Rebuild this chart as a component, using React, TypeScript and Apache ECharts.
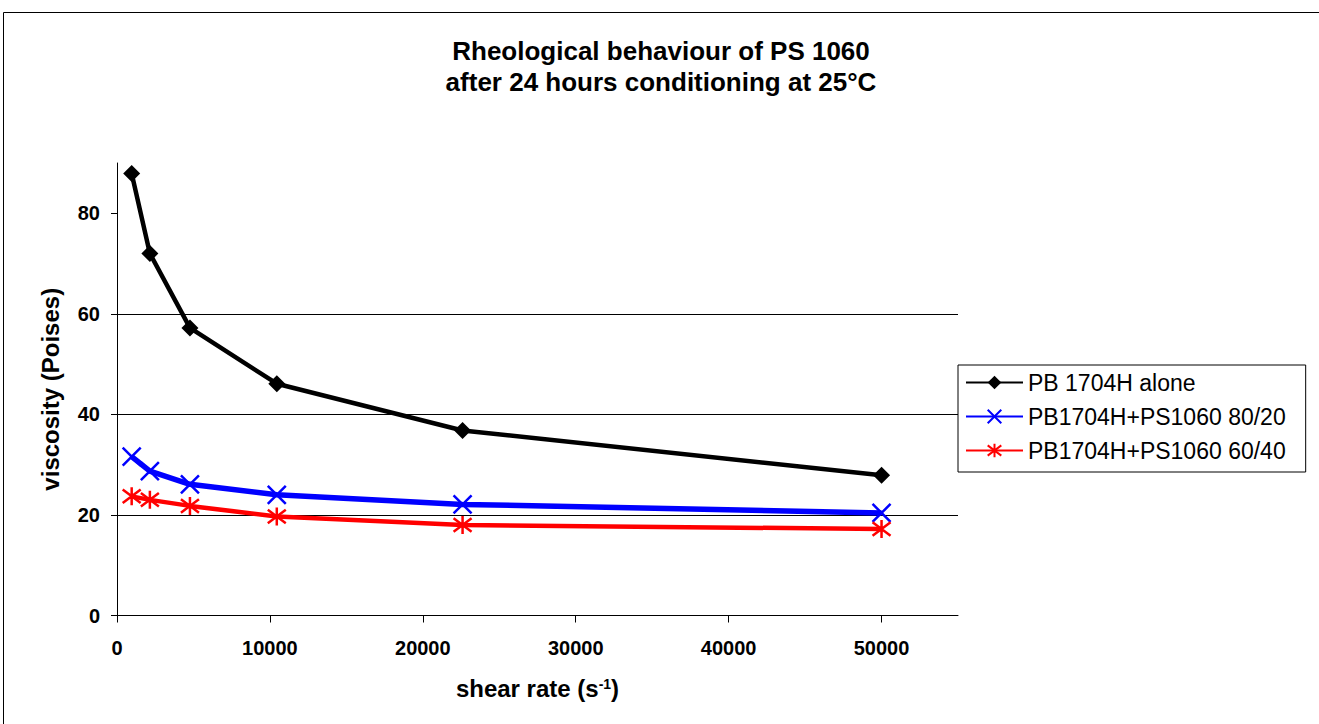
import React, { useEffect, useRef } from "react";
import * as echarts from "echarts";

const shearRates = [960, 2150, 4770, 10450, 22600, 50000];
const pbAlone = [87.9, 72.0, 57.2, 46.1, 36.8, 27.9];
const blend8020 = [31.6, 28.7, 26.1, 24.0, 22.1, 20.4];
const blend6040 = [23.7, 23.0, 21.8, 19.7, 18.0, 17.2];
const seriesNames = ["PB 1704H alone", "PB1704H+PS1060 80/20", "PB1704H+PS1060 60/40"];
const xTicks = [0, 10000, 20000, 30000, 40000, 50000];
const yTicks = [0, 20, 40, 60, 80];
const titleText = "Rheological behaviour of PS 1060\nafter 24 hours conditioning at 25°C";

const FONT = "'Liberation Sans', Arial, sans-serif";
const CROSS = "path://M0,0L10,10M10,0L0,10";
const STAR = "path://M1,1.5L11,10.5M11,1.5L1,10.5M6,0L6,12";

function pairs(ys: number[]) {
  return shearRates.map((x, i) => [x, ys[i]]);
}

export default function App() {
  const ref = useRef<HTMLDivElement>(null);
  useEffect(() => {
    if (!ref.current) return;
    const chart = echarts.init(ref.current, null, { renderer: "svg" });
    chart.setOption({
      animation: false,
      backgroundColor: "#ffffff",
      textStyle: { fontFamily: FONT },
      graphic: [
        {
          type: "rect",
          silent: true,
          shape: { x: 3.5, y: 12.5, width: 1400, height: 800 },
          style: { fill: "none", stroke: "#000", lineWidth: 1 },
        },
      ],
      title: {
        text: titleText,
        left: 656,
        top: 30,
        textAlign: "center",
        textStyle: {
          fontFamily: FONT,
          fontSize: 26,
          fontWeight: "bold",
          color: "#000",
          lineHeight: 31,
        },
      },
      legend: {
        orient: "vertical",
        left: 958,
        top: 365,
        borderColor: "#000",
        borderWidth: 1,
        padding: [6, 20, 10, 7],
        itemWidth: 57,
        itemHeight: 17,
        itemGap: 11,
        data: seriesNames,
        textStyle: { fontFamily: FONT, fontSize: 23, color: "#000" },
      },
      grid: { left: 117, right: 361, top: 163, bottom: 108.5 },
      xAxis: {
        type: "value",
        min: 0,
        max: 55000,
        interval: 10000,
        name: "shear rate (s{sup|-1})",
        nameLocation: "middle",
        nameGap: 61,
        nameMoveOverlap: false,
        nameTextStyle: {
          fontFamily: FONT,
          fontSize: 24,
          fontWeight: "bold",
          color: "#000",
          rich: {
            sup: {
              fontFamily: FONT,
              fontSize: 14,
              fontWeight: "bold",
              color: "#000",
              verticalAlign: "top",
              padding: [0, 0, 10, 0],
            },
          },
        },
        axisLine: { lineStyle: { color: "#000", width: 1 } },
        axisTick: { length: 7, lineStyle: { color: "#000" }, customValues: xTicks },
        axisLabel: {
          customValues: xTicks,
          formatter: (v: number) => String(v),
          fontFamily: FONT,
          fontSize: 20,
          fontWeight: "bold",
          color: "#000",
          margin: 22,
        },
        splitLine: { show: false },
      },
      yAxis: {
        type: "value",
        min: 0,
        max: 90,
        interval: 20,
        name: "viscosity (Poises)",
        nameLocation: "middle",
        nameGap: 55,
        nameMoveOverlap: false,
        nameTextStyle: {
          fontFamily: FONT,
          fontSize: 24,
          fontWeight: "bold",
          color: "#000",
        },
        axisLine: { show: true, lineStyle: { color: "#000", width: 1 } },
        axisTick: { show: true, length: 6, lineStyle: { color: "#000" }, customValues: yTicks },
        axisLabel: {
          customValues: yTicks,
          formatter: (v: number) => String(v),
          fontFamily: FONT,
          fontSize: 20,
          fontWeight: "bold",
          color: "#000",
          margin: 17,
        },
        splitLine: {
          show: true,
          showMaxLine: false,
          lineStyle: { color: "#000", width: 1 },
        },
      },
      series: [
        {
          name: seriesNames[0],
          type: "line",
          data: pairs(pbAlone),
          symbol: "diamond",
          symbolSize: 17,
          lineStyle: { color: "#000", width: 4.5 },
          itemStyle: { color: "#000" },
          z: 3,
        },
        {
          name: seriesNames[1],
          type: "line",
          data: pairs(blend8020),
          symbol: CROSS,
          symbolSize: 18,
          lineStyle: { color: "#0000ff", width: 5.5 },
          itemStyle: { color: "#0000ff", borderColor: "#0000ff", borderWidth: 2.5 },
          z: 3,
        },
        {
          name: seriesNames[2],
          type: "line",
          data: pairs(blend6040),
          symbol: STAR,
          symbolSize: 18,
          lineStyle: { color: "#ff0000", width: 4.5 },
          itemStyle: { color: "#ff0000", borderColor: "#ff0000", borderWidth: 2.5 },
          z: 3,
        },
      ],
    });
    return () => chart.dispose();
  }, []);
  return (
    <div
      ref={ref}
      style={{ position: "absolute", left: 0, top: 0, width: 1319, height: 724 }}
    />
  );
}
